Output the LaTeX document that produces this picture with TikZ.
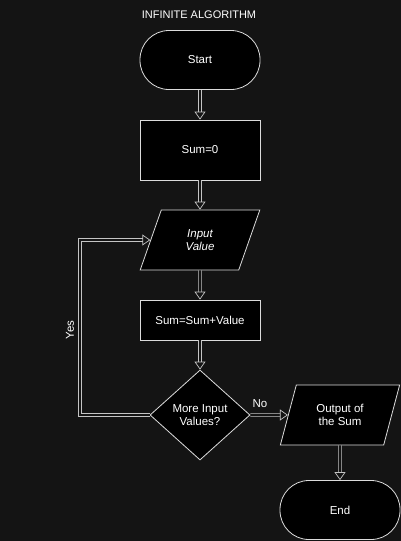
\documentclass[tikz,border=0pt]{standalone}
\usepackage{fontspec}
\setmainfont{Liberation Sans}
\usetikzlibrary{shapes.geometric,arrows.meta}

\definecolor{bgdark}{HTML}{141414}
\definecolor{edgegray}{HTML}{DCDCDC}
\definecolor{linegray}{HTML}{C4C4C4}

\tikzset{
  terminal/.style={rectangle, rounded corners=29pt, draw=edgegray, fill=black, text=white,
    minimum width=120pt, minimum height=59pt, line width=0.8pt},
  process/.style={rectangle, draw=edgegray, fill=black, text=white,
    minimum width=120pt, line width=0.8pt},
  io/.style={trapezium, trapezium left angle=71, trapezium right angle=109,
    trapezium stretches=true, draw=edgegray, fill=black, text=white,
    minimum width=120pt, minimum height=60pt, line width=0.8pt, align=center},
  decision/.style={diamond, draw=edgegray, fill=black, text=white, inner sep=0pt,
    minimum width=100pt, minimum height=90pt, line width=0.8pt, align=center},
  flow/.style={draw=linegray, double=bgdark, double distance=1.8pt, line width=0.7pt,
    -{Triangle[open, length=8pt, width=11pt]}},
  lbl/.style={text=white}
}

\begin{document}
\begin{tikzpicture}[x=1pt,y=-1pt,font=\fontsize{11.5}{13.5}\selectfont]
\fill[bgdark] (0,0) rectangle (401,541);
\useasboundingbox (0,0) rectangle (401,541);

\node[lbl] (title) at (199,15) {\fontsize{11}{13}\selectfont INFINITE ALGORITHM};

\node[terminal] (start) at (200,60) {Start};
\node[process, minimum height=60pt] (init) at (200,150) {Sum=0};
\node[io] (inp) at (200,240) {\itshape Input\\\itshape Value};
\node[process, minimum height=40pt] (add) at (200,320) {Sum=Sum+Value};
\node[decision] (more) at (200,415) {More Input\\Values?};
\node[io] (out) at (340,415) {Output of\\the Sum};
\node[terminal] (stop) at (340,510) {End};

\coordinate (loop) at (80,415);

\draw[flow] (start) -- (init);
\draw[flow] (init) -- (inp);
\draw[flow] (inp) -- (add);
\draw[flow] (add) -- (more);
\draw[flow] (more.east) -- (out.west);
\draw[flow] (out) -- (stop);
\draw[flow] (more.west) -- (loop) |- (inp.west);

\node[lbl, rotate=90] (yes) at (70,330) {Yes};
\node[lbl] (no) at (260,404) {No};
\end{tikzpicture}
\end{document}
